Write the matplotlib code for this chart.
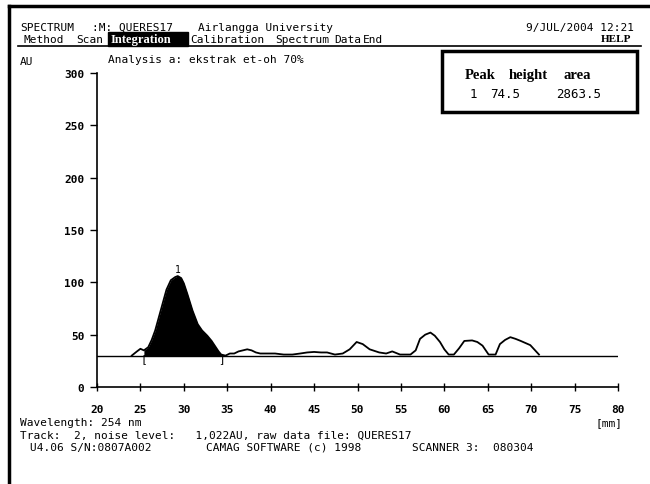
import numpy as np
import matplotlib
matplotlib.use("Agg")
import matplotlib.pyplot as plt
from matplotlib.patches import Rectangle

# densitogram trace (x in mm, y in AU)
track_x = [24.0, 24.6, 25.0, 25.4, 25.9, 26.3, 26.7, 27.0, 27.3, 27.6, 28.0, 28.5,
           29.0, 29.3, 29.7, 30.0, 30.4, 31.0, 31.6, 32.1, 32.7, 33.2, 33.6, 34.0,
           34.3, 34.8, 35.3, 35.8, 36.3, 36.8, 37.3, 37.8, 38.3, 38.8, 39.5, 40.5,
           41.5, 42.5, 43.4, 44.2, 45.0, 45.8, 46.5, 47.4, 48.3, 49.1, 49.9, 50.6,
           51.4, 52.5, 53.3, 54.0, 54.9, 56.1, 56.7, 57.2, 57.8, 58.4, 58.9, 59.5,
           60.0, 60.5, 61.1, 61.7, 62.3, 63.2, 63.8, 64.4, 65.1, 65.9, 66.4, 67.0,
           67.6, 68.2, 68.8, 69.9, 70.9]
track_y = [30, 34, 36.5, 35, 38, 45, 54, 63, 72, 81, 93, 102,
           105, 106, 104, 99, 89, 73, 60, 54, 49, 44, 39, 34,
           31, 30, 32, 32, 34, 35, 36, 35, 33, 32, 32, 32,
           31, 31, 32, 33, 33.5, 33, 33, 31, 32, 36, 43, 41,
           36, 33, 32, 34, 31, 31, 35, 46, 50, 52, 49, 43,
           36, 31, 31, 37, 44, 44.5, 43, 39.5, 31, 31, 41, 45,
           47.6, 46, 44, 40, 31]
baseline = 30
peak_start, peak_end = 25.4, 34.3
peak_x, peak_y = 29.3, 106

x_ticks = [20, 25, 30, 35, 40, 45, 50, 55, 60, 65, 70, 75, 80]
y_ticks = [0, 50, 100, 150, 200, 250, 300]

W, H = 650, 485
mono = "DejaVu Sans Mono"

fig = plt.figure(figsize=(6.5, 4.85), dpi=100)


def ftext(px, py, s, **kw):
    kw.setdefault("family", mono)
    kw.setdefault("fontsize", 8)
    kw.setdefault("va", "center")
    return fig.text(px / W, 1 - py / H, s, **kw)


# outer frame (top and left edges of the screen print)
fig.add_artist(plt.Line2D([9 / W, 9 / W], [0, 1 - 7 / H], color="black", lw=2.5))
fig.add_artist(plt.Line2D([9 / W, 1], [1 - 7 / H, 1 - 7 / H], color="black", lw=2.5))

# header
ftext(20, 28, "SPECTRUM")
ftext(92, 28, ":M: QUERES17")
ftext(198, 28, "Airlangga University")
ftext(634, 28, "9/JUL/2004 12:21", ha="right")

ftext(23, 40, "Method")
ftext(76, 40, "Scan")
fig.add_artist(Rectangle((108 / W, 1 - 47 / H), 80 / W, 14 / H, color="black",
                         transform=fig.transFigure))
ftext(111, 40, "Integration", color="white", family="Liberation Serif",
      fontsize=9, weight="bold")
ftext(190, 40, "Calibration")
ftext(275, 40, "Spectrum")
ftext(334, 40, "Data")
ftext(363, 40, "End")
ftext(631, 40, "HELP", ha="right", family="Liberation Serif", weight="bold")
fig.add_artist(plt.Line2D([18 / W, 641 / W], [1 - 47 / H, 1 - 47 / H],
                          color="black", lw=1.2))

ftext(20, 62, "AU")
ftext(108, 60, "Analysis a: ekstrak et-oh 70%")

# peak table box
fig.add_artist(Rectangle((442 / W, 1 - 113 / H), 195 / W, 61 / H, fill=False,
                         edgecolor="black", lw=2.5, transform=fig.transFigure))
serif = dict(family="Liberation Serif", fontsize=10.5, weight="bold", va="baseline")
ftext(465, 79, "Peak", **serif)
ftext(509, 79, "height", **serif)
ftext(564, 79, "area", **serif)
ftext(470, 95, "1", fontsize=9)
ftext(490, 95, "74.5", fontsize=9)
ftext(556, 95, "2863.5", fontsize=9)

# chart
ax = fig.add_axes([97 / W, 1 - 388 / H, 521 / W, 314 / H])
ax.set_xlim(20, 80)
ax.set_ylim(0, 300)
for side in ("top", "right"):
    ax.spines[side].set_visible(False)
ax.spines["left"].set_linewidth(1.2)
ax.spines["bottom"].set_linewidth(1.2)
ax.set_xticks(x_ticks)
ax.set_yticks(y_ticks)
ax.tick_params(axis="both", direction="out", length=5, width=1,
               labelsize=8, pad=4)
ax.tick_params(axis="x", direction="inout", length=6, pad=9)
for lab in ax.get_xticklabels() + ax.get_yticklabels():
    lab.set_family(mono)
    lab.set_weight("bold")

tx = np.array(track_x)
ty = np.array(track_y)
ax.axhline(baseline, color="black", lw=1)
ax.plot(tx, ty, color="black", lw=1.3)
sel = (tx >= peak_start) & (tx <= peak_end)
ax.fill_between(tx[sel], baseline, ty[sel], color="black", lw=0)
ax.text(peak_x, peak_y + 2, "1", family=mono, fontsize=7, ha="center", va="bottom")
ax.text(peak_start, baseline - 2, "[", family=mono, fontsize=8, ha="center", va="center")
ax.text(peak_end, baseline - 2, "]", family=mono, fontsize=8, ha="center", va="center")

# footer
ftext(20, 423, "Wavelength: 254 nm")
ftext(622, 423, "[mm]", ha="right")
ftext(20, 436, "Track:  2, noise level:   1,022AU, raw data file: QUERES17")
ftext(30, 448, "U4.06 S/N:0807A002")
ftext(206, 448, "CAMAG SOFTWARE (c) 1998")
ftext(412, 448, "SCANNER 3:  080304")

fig.savefig("out.png", dpi=100)
